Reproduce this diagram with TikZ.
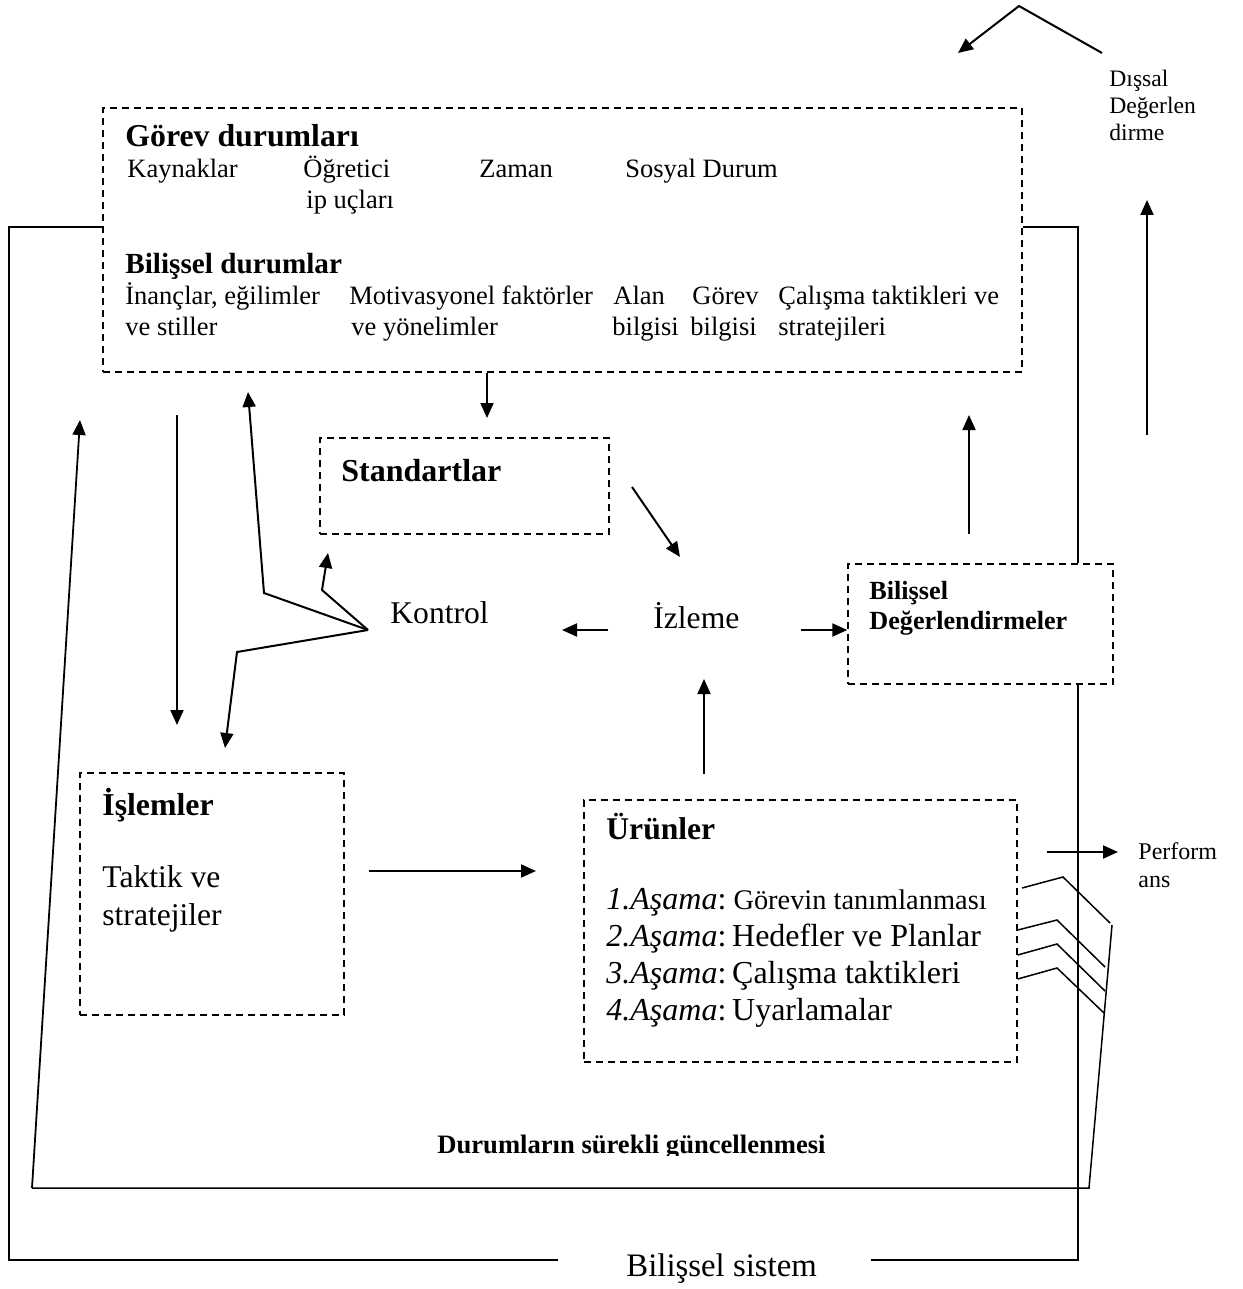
\documentclass[tikz,border=0pt]{standalone}
\usepackage{fontspec}
\setmainfont{Liberation Serif}
\usetikzlibrary{arrows.meta}
\begin{document}
\begin{tikzpicture}[x=0.5pt,y=-0.5pt,
  box/.style={draw, dash pattern=on 3.5pt off 2.5pt, line width=0.7pt, inner sep=0pt},
  arr/.style={line width=1pt, line join=miter, -{Triangle[length=7.5pt,width=6.5pt]}},
  ln/.style={line width=0.8pt},
  thin/.style={line width=0.75pt},
  txt/.style={inner sep=0pt, anchor=base west},
  sm/.style={txt, font=\fontsize{13.25}{15}\selectfont},
  hd/.style={txt, font=\fontsize{15.9}{18}\selectfont\bfseries},
  big/.style={txt, font=\fontsize{15.8}{18}\selectfont},
  tiny/.style={txt, font=\fontsize{11.8}{14}\selectfont},
]
\useasboundingbox[fill=white] (0,0) rectangle (1242,1289);

% boxes
\node[box, minimum width=459.5pt, minimum height=132pt] (gorev) at (562.5,240) {};
\node[box, minimum width=144.5pt, minimum height=48pt] (std) at (464.5,486) {};
\node[box, minimum width=132.5pt, minimum height=60pt] (bd) at (980.5,624) {};
\node[box, minimum width=132pt, minimum height=121pt] (islem) at (212,894) {};
\node[box, minimum width=216.5pt, minimum height=131pt] (urun) at (800.5,931) {};

% texts in Görev box
\node[hd] (t1) at (125,147) {Görev durumları};
\node[sm] (t2) at (127,178) {Kaynaklar};
\node[sm] (t3) at (303,178) {Öğretici};
\node[sm] (t4) at (306,209) {ip uçları};
\node[sm] (t5) at (479,178) {Zaman};
\node[sm] (t6) at (625,178) {Sosyal Durum};
\node[hd, font=\fontsize{14.6}{17}\selectfont\bfseries] (t7) at (125,273) {Bilişsel durumlar};
\node[sm] (t8) at (125,304) {İnançlar, eğilimler};
\node[sm] (t9) at (125,335) {ve stiller};
\node[sm] (t10) at (349,304) {Motivasyonel faktörler};
\node[sm] (t11) at (351,335) {ve yönelimler};
\node[sm] (t12) at (613,304) {Alan};
\node[sm] (t13) at (612,335) {bilgisi};
\node[sm] (t14) at (692,304) {Görev};
\node[sm] (t15) at (690,335) {bilgisi};
\node[sm] (t16) at (778,304) {Çalışma taktikleri ve};
\node[sm] (t17) at (778,335) {stratejileri};

% other texts
\node[hd, font=\fontsize{16}{18}\selectfont\bfseries] (tstd) at (341,481) {Standartlar};
\node[big] (kon) at (390,623) {Kontrol};
\node[big] (iz) at (653,628) {İzleme};
\node[txt, font=\fontsize{13.1}{15}\selectfont\bfseries] (bd1) at (869,599) {Bilişsel};
\node[txt, font=\fontsize{13.1}{15}\selectfont\bfseries] (bd2) at (869,629) {Değerlendirmeler};
\node[hd] (isl1) at (102,815) {İşlemler};
\node[big] (isl2) at (102,887) {Taktik ve};
\node[big] (isl3) at (102,925) {stratejiler};
\node[hd, font=\fontsize{15.8}{18}\selectfont\bfseries] (ur0) at (606,839) {Ürünler};
\node[txt, font=\fontsize{16}{18}\selectfont] (ur1) at (606,909) {\textit{1.Aşama}:\fontsize{14.2}{17}\selectfont\ Görevin tanımlanması};
\node[txt, font=\fontsize{16}{18}\selectfont] (ur2) at (606,946) {\textit{2.Aşama}:\hspace{0.18em}Hedefler ve Planlar};
\node[txt, font=\fontsize{16}{18}\selectfont] (ur3) at (606,983) {\textit{3.Aşama}:\hspace{0.18em}Çalışma taktikleri};
\node[txt, font=\fontsize{16}{18}\selectfont] (ur4) at (606,1020) {\textit{4.Aşama}:\hspace{0.18em}Uyarlamalar};
\node[tiny] (dis1) at (1109,87) {Dışsal};
\node[tiny] (dis2) at (1109,114) {Değerlen};
\node[tiny] (dis3) at (1109,141) {dirme};
\node[tiny, font=\fontsize{12}{14}\selectfont] (perf1) at (1138,859) {Perform};
\node[tiny, font=\fontsize{12}{14}\selectfont] (perf2) at (1138,887) {ans};
\begin{scope}
\clip (400,1100) rectangle (860,1155);
\node[txt, font=\fontsize{13.3}{15}\selectfont\bfseries] (dur) at (437,1153) {Durumların sürekli güncellenmesi};
\end{scope}
\node[txt, font=\fontsize{16.4}{19}\selectfont] (bsis) at (626,1276) {Bilişsel sistem};

% outer frame
\coordinate (fr1) at (9,227);
\coordinate (fr2) at (1078,227);
\coordinate (fr3) at (9,1260);
\coordinate (fr4) at (1078,1260);
\draw[ln] (fr1 -| gorev.west) -- (fr1) -- (fr3) -- (558,1260);
\draw[ln] (fr2 -| gorev.east) -- (fr2) -- (fr2 |- bd.north);
\draw[ln] (fr2 |- bd.south) -- (fr4) -- (871,1260);

% connectors
\coordinate (a1e) at (487,418);
\draw[arr] (gorev.south -| a1e) -- (a1e);
\coordinate (a2s) at (632,487); \coordinate (a2e) at (680,557);
\draw[arr] (a2s) -- (a2e);
\coordinate (a3s) at (608,630); \coordinate (a3e) at (562,630);
\draw[arr] (a3s) -- (a3e);
\coordinate (a4s) at (801,630);
\draw[arr] (a4s) -- (a4s -| bd.west);
\coordinate (a5s) at (969,534); \coordinate (a5e) at (969,415);
\draw[arr] (a5s) -- (a5e);
\coordinate (a6s) at (704,774); \coordinate (a6e) at (704,679);
\draw[arr] (a6s) -- (a6e);
\coordinate (a7s) at (369,871); \coordinate (a7e) at (536,871);
\draw[arr] (a7s) -- (a7e);
\coordinate (a8s) at (177,415); \coordinate (a8e) at (177,725);
\draw[arr] (a8s) -- (a8e);

% Kontrol branches
\coordinate (k0) at (368,630);
\coordinate (kb1) at (322,590); \coordinate (ke1) at (328,553);
\coordinate (kb2) at (264,593); \coordinate (ke2) at (248,392);
\coordinate (kb3) at (237,652); \coordinate (ke3) at (225,748);
\draw[arr] (k0) -- (kb1) -- (ke1);
\draw[arr] (k0) -- (kb2) -- (ke2);
\draw[arr] (k0) -- (kb3) -- (ke3);

% external evaluation
\coordinate (x1) at (1102,53); \coordinate (x2) at (1019,6); \coordinate (x3) at (958,53);
\draw[arr] (x1) -- (x2) -- (x3);
\coordinate (r1s) at (1147,435); \coordinate (r1e) at (1147,200);
\draw[arr] (r1s) -- (r1e);
\coordinate (p1s) at (1047,852); \coordinate (p1e) at (1118,852);
\draw[arr] (p1s) -- (p1e);

% update lines
\draw[thin] (1022,888) -- (1063,877) -- (1110,923);
\draw[thin] (urun.east |- 0,930) -- (1057,920) -- (1105,967);
\draw[thin] (urun.east |- 0,955) -- (1057,944) -- (1105,991);
\draw[thin] (urun.east |- 0,979) -- (1057,968) -- (1104,1013);
\coordinate (l1) at (1112,925); \coordinate (l2) at (1089,1188);
\coordinate (l3) at (32,1188); \coordinate (l4) at (80,420);
\draw[thin] (l1) -- (l2) -- (l3);
\draw[arr, line width=0.9pt] (l3) -- (l4);
\end{tikzpicture}
\end{document}
